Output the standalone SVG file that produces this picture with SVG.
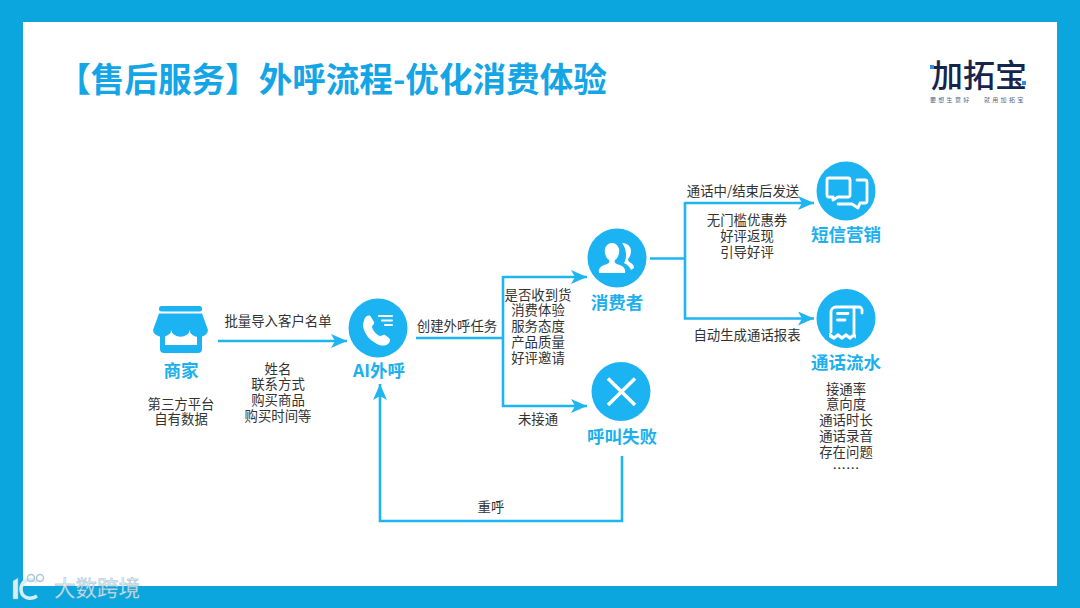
<svg xmlns="http://www.w3.org/2000/svg" width="1080" height="608" viewBox="0 0 1080 608">
<defs>
<marker id="arrow" markerUnits="userSpaceOnUse" markerWidth="18" markerHeight="16" refX="16" refY="7" orient="auto"><path d="M0 0L16 7L0 14L4 7Z" fill="#1fb4f2"/></marker>
</defs>
<style>
text{font-family:"Noto Sans CJK SC","Noto Sans",sans-serif}
.t{font-size:13.400px;fill:#333;text-anchor:middle}
.l{font-size:17.500px;font-weight:700;fill:#1cb0ee;text-anchor:middle}
.c{fill:none;stroke:#1fb4f2;stroke-width:2.600}
.n{fill:#1cb3f3}
.i{fill:none;stroke:#fff;stroke-width:2.800;stroke-linecap:round;stroke-linejoin:round}
.f{fill:#fff}
</style>
<rect width="1080" height="608" fill="#0ba6dd"/>
<rect x="23" y="22" width="1034" height="564" fill="#fff"/>
<text x="332" y="92" font-size="33.600" font-weight="700" fill="#14a5e6" text-anchor="middle">【售后服务】外呼流程-优化消费体验</text>
<g id="logo">
<text x="979" y="87" font-size="32" font-weight="500" fill="#16254d" text-anchor="middle">加拓宝</text>
<rect x="930" y="65" width="4" height="4" fill="#2f8df0"/>
<rect x="1022" y="81" width="4" height="4" fill="#2f8df0"/>
<text x="930" y="102" font-size="6" fill="#5c6478" letter-spacing="2.300">要想生意好</text>
<text x="984" y="102" font-size="6" fill="#5c6478" letter-spacing="2.300">就用加拓宝</text>
</g>
<g id="connectors">
<path class="c" d="M218 341H347" marker-end="url(#arrow)"/>
<path class="c" d="M416 338H503"/>
<path class="c" d="M503 277H587" marker-end="url(#arrow)"/>
<path class="c" d="M503 276V406H587" marker-end="url(#arrow)"/>
<path class="c" d="M650 258.500H685"/>
<path class="c" d="M685 203H814" marker-end="url(#arrow)"/>
<path class="c" d="M685 202V318.500H814" marker-end="url(#arrow)"/>
<path class="c" d="M622 456V521H380V384" marker-end="url(#arrow)"/>
</g>
<g id="merchant">
<rect x="159" y="306" width="43" height="5.500" rx="2.500" class="n"/>
<path class="n" d="M159 313.500H202L208 330H153Z"/>
<path class="n" d="M153 330a9.170 7 0 0 0 18.330 0a9.170 7 0 0 0 18.330 0a9.170 7 0 0 0 18.340 0Z"/>
<path class="n" d="M160 335V349a4 4 0 0 0 4 4H198a4 4 0 0 0 4-4V335H197V345H165V335Z"/>
<text class="l" x="181" y="377">商家</text>
<text class="t" x="181" y="409">第三方平台</text>
<text class="t" x="181" y="424">自有数据</text>
</g>
<g id="ai-call">
<circle class="n" cx="378" cy="328" r="29.500"/>
<path class="f" d="M365 318c2-3 5-3 6-1l3 5c1 2-2 3-2 5c1 4 5 8 8 9c2 0 3-2 5-1l4 3c2 2 1 4-1 6c-3 2-7 2-11 0c-8-4-13-11-14-18c0-3 1-6 2-8Z"/>
<path class="i" style="stroke-width:2" d="M379 316H392M382 320.500H392M385 325H392"/>
<text class="l" x="379" y="377">AI外呼</text>
</g>
<g id="consumer">
<circle class="n" cx="617" cy="258" r="29.500"/>
<path class="f" d="M599 273c-1-5 2-7 8-9c2-1 3-2 2-4c-3-2-5-7-4-11c1-4 4-6 7-6s6 2 7 6c1 4-1 9-4 11c-1 2 0 3 2 4c6 2 9 4 8 9Z"/>
<path class="f" d="M622 243c6 0 9 4 9 8c0 3-1 6-3 8c0 2 1 3 3 4c2 1 3 3 3 5l-3 2c-1-3-3-5-7-7c3-5 3-14-2-20Z"/>
<text class="l" x="617" y="309">消费者</text>
</g>
<g id="failed">
<circle class="n" cx="621" cy="391.500" r="29.500"/>
<path class="i" style="stroke-width:3.500;stroke-linecap:butt" d="M608 378.500L635 405M635 378.500L608 405"/>
<text class="l" x="622" y="443">呼叫失败</text>
</g>
<g id="sms">
<circle class="n" cx="846" cy="191" r="29.500"/>
<path class="i" d="M829 178H848a2 2 0 0 1 2 2V195a2 2 0 0 1-2 2H838L833 200V197H829a2 2 0 0 1-2-2V180a2 2 0 0 1 2-2Z"/>
<path class="i" d="M857 180H865a2 2 0 0 1 2 2V201a2 2 0 0 1-2 2H860L858 208L852 204H838"/>
<text class="l" x="846" y="241">短信营销</text>
</g>
<g id="ledger">
<circle class="n" cx="846" cy="318.500" r="29.500"/>
<path class="i" d="M831 332V312a5 5 0 0 1 5-5H859a3 3 0 0 1 3 3V313"/>
<path class="f" d="M830 333L834 336L838 333L842 336L846 333L850 336L854 333L856 335V339L854 337L850 340L846 337L842 340L838 337L834 340L829 337V333Z"/>
<path class="i" d="M854 308V334M837.500 313.500H848M837.500 320H845"/>
<text class="l" x="846" y="369">通话流水</text>
<text class="t" x="846" y="394">接通率</text>
<text class="t" x="846" y="409">意向度</text>
<text class="t" x="846" y="425">通话时长</text>
<text class="t" x="846" y="441">通话录音</text>
<text class="t" x="846" y="457">存在问题</text>
<text class="t" x="846" y="473">……</text>
</g>
<g id="labels">
<text class="t" x="278" y="326">批量导入客户名单</text>
<text class="t" x="278" y="374">姓名</text>
<text class="t" x="278" y="389">联系方式</text>
<text class="t" x="278" y="405">购买商品</text>
<text class="t" x="278" y="421">购买时间等</text>
<text class="t" x="457" y="331">创建外呼任务</text>
<text class="t" x="538" y="300">是否收到货</text>
<text class="t" x="538" y="315">消费体验</text>
<text class="t" x="538" y="331">服务态度</text>
<text class="t" x="538" y="347">产品质量</text>
<text class="t" x="538" y="363">好评邀请</text>
<text class="t" x="538" y="424">未接通</text>
<text class="t" x="743" y="196">通话中/结束后发送</text>
<text class="t" x="747" y="225">无门槛优惠券</text>
<text class="t" x="747" y="241">好评返现</text>
<text class="t" x="747" y="257">引导好评</text>
<text class="t" x="747" y="340">自动生成通话报表</text>
<text class="t" x="491" y="512">重呼</text>
</g>
<g id="watermark">
<path d="M13 581L18 578V599H13Z" fill="#d8eef7" stroke="#8fb8ca" stroke-width=".5"/>
<path d="M37 582C29 576 21 582 21 589C21 597 29 601 37 596" fill="none" stroke="#d8eef7" stroke-width="3.500"/>
<circle cx="31" cy="578" r="3.500" fill="none" stroke="#a9c9d7" stroke-width="1.500"/>
<circle cx="40" cy="578" r="3.500" fill="none" stroke="#a9c9d7" stroke-width="1.500"/>
<text x="97" y="596" font-size="21.500" fill="#eaf6fb" fill-opacity=".85" stroke="#6f9db3" stroke-opacity=".45" stroke-width=".8" text-anchor="middle">大数跨境</text>
</g>
</svg>
